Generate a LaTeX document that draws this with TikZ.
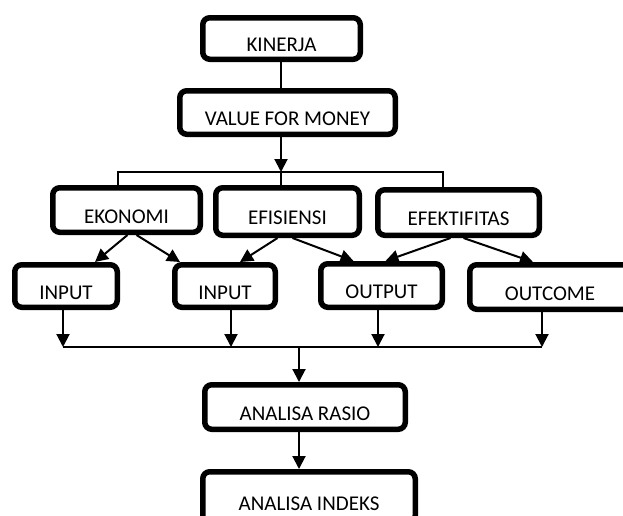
\documentclass[tikz,border=0pt]{standalone}
\usepackage{fontspec}
\setmainfont{Carlito}
\usetikzlibrary{arrows.meta,calc}

\begin{document}
\begin{tikzpicture}[x=1pt, y=-1pt, >={Triangle[length=13pt, width=13pt]},
  kotak/.style={draw, line width=5.5pt, rounded corners=7pt, inner sep=0pt,
    font=\fontsize{21}{24}\selectfont, text height=26pt, text depth=0pt},
  panah/.style={->, line width=2pt},
  garis/.style={line width=1.3pt}]
  \useasboundingbox (0,0) rectangle (623,515);
  % kotak-kotak
  \node[kotak, minimum width=157.5, minimum height=41.5] (kinerja) at (281.5,38.5) {KINERJA};
  \node[kotak, minimum width=215.5, minimum height=43.5] (vfm) at (287.5,112.5) {VALUE FOR MONEY};
  \node[kotak, minimum width=147.5, minimum height=44.5] (eko) at (126.5,210) {EKONOMI};
  \node[kotak, minimum width=143.5, minimum height=47.5] (efi) at (287.5,211.5) {EFISIENSI};
  \node[kotak, minimum width=161.5, minimum height=45.5] (efk) at (458.5,212.5) {EFEKTIFITAS};
  \node[kotak, minimum width=102.5, minimum height=42.5] (in1) at (66,286) {INPUT};
  \node[kotak, minimum width=100.5, minimum height=42.5] (in2) at (225,286) {INPUT};
  \node[kotak, minimum width=121.5, minimum height=43.5] (out) at (381.5,285.5) {OUTPUT};
  \node[kotak, minimum width=160.5, minimum height=44.5] (outc) at (550,287) {OUTCOME};
  \node[kotak, minimum width=200.5, minimum height=44.5] (rasio) at (305,407) {ANALISA RASIO};
  \node[kotak, minimum width=212.5, minimum height=50.5] (indeks) at (309,497) {ANALISA INDEKS};
  % titik cabang
  \coordinate (bt) at (281,172);
  \coordinate (bl) at (118,172);
  \coordinate (br) at (443,172);
  \coordinate (bb1) at (63,347);
  \coordinate (bb2) at (231,347);
  \coordinate (bb3) at (378,347);
  \coordinate (bb4) at (542,347);
  \coordinate (bbm) at (299,347);
  % garis atas
  \draw[garis] (kinerja.south -| bt) -- (vfm.north -| bt);
  \draw[panah] (vfm.south -| bt) -- (bt);
  \draw[garis] (eko.north -| bl) -- (bl) -- (br) -- (efk.north -| br);
  \draw[garis] (bt) -- (efi.north -| bt);
  % panah miring
  \draw[panah] ([xshift=1pt]eko.south) -- ([xshift=29pt]in1.north);
  \draw[panah] ([xshift=10pt]eko.south) -- ([xshift=-45pt]in2.north);
  \draw[panah] ([xshift=-10pt]efi.south) -- ([xshift=15pt]in2.north);
  \draw[panah] ([xshift=5pt]efi.south) -- ([xshift=-28pt]out.north);
  \draw[panah] ([xshift=-8pt]efk.south) -- ([xshift=4pt]out.north);
  \draw[panah] ([xshift=5pt]efk.south) -- ([xshift=-17pt]outc.north);
  % garis bawah
  \foreach \k/\b in {in1/bb1, in2/bb2, out/bb3, outc/bb4}
    \draw[panah] (\k.south -| \b) -- (\b);
  \draw[garis] (bb1) -- (bb4);
  \draw[panah] (bbm) -- (rasio.north -| bbm);
  \draw[panah] (rasio.south -| bbm) -- (indeks.north -| bbm);
\end{tikzpicture}
\end{document}
